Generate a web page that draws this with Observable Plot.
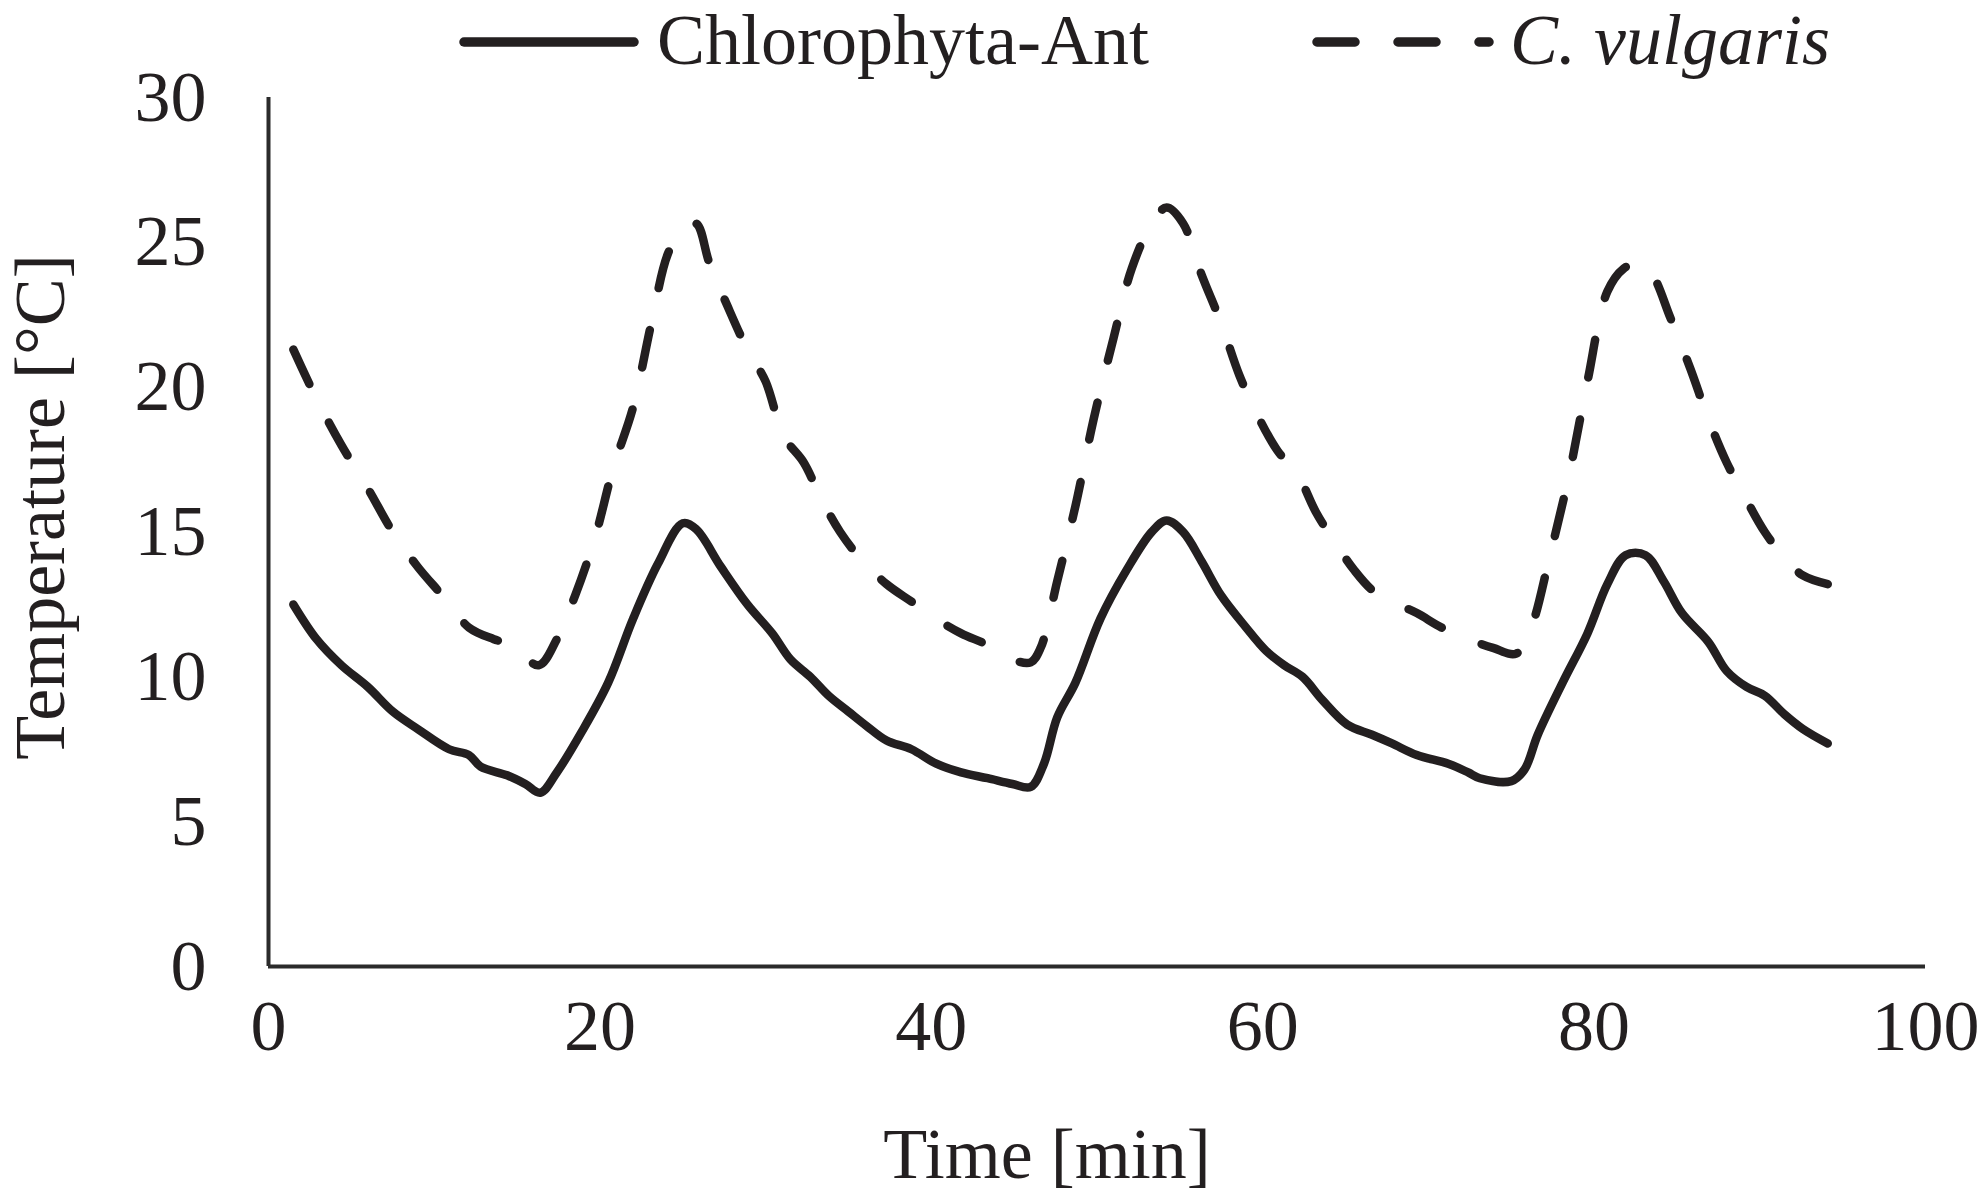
<!DOCTYPE html>
<html>
<head>
<meta charset="utf-8">
<script src="https://cdn.jsdelivr.net/npm/d3@7"></script>
<script src="https://cdn.jsdelivr.net/npm/@observablehq/plot@0.6"></script>
<style>
  html, body { margin: 0; padding: 0; background: #fff; overflow: hidden; }
  body { width: 1983px; height: 1198px; font-family: "Liberation Serif", "Times New Roman", serif; color: #231f20; }
  #legend { position: relative; width: 1983px; height: 72px; overflow: visible; z-index: 2; }
  #legend .lbl { position: absolute; font-size: 72px; line-height: 1; white-space: nowrap; }
  #legend svg.sample { position: absolute; overflow: visible; }
  #chart svg { background: transparent !important; }
</style>
</head>
<body>
<div id="legend"></div>
<div id="chart"></div>
<script>
// ---- data ----
const seriesNames = ["Chlorophyta-Ant", "C. vulgaris"];

const antTime = [1.5, 2.9, 4.4, 6.0, 7.5, 9.0, 10.9, 12.1, 12.8, 14.4, 15.5, 16.4, 17.4, 18.9, 20.5, 22.0, 23.5, 25.0, 25.8, 27.3, 28.9, 30.4, 31.5, 32.7, 33.8, 35.0, 36.1, 37.3, 38.8, 40.3, 41.8, 43.4, 44.9, 46.0, 46.8, 47.6, 48.7, 50.2, 51.8, 53.3, 54.2, 55.2, 56.3, 57.5, 59.0, 60.2, 61.3, 62.4, 63.6, 65.1, 66.6, 67.8, 69.3, 71.2, 72.4, 73.1, 75.0, 75.8, 76.6, 78.1, 79.6, 80.8, 81.9, 83.1, 84.2, 85.3, 86.9, 88.0, 89.2, 90.3, 91.5, 92.6, 94.1];
const antTemp = [12.5, 11.3, 10.4, 9.65, 8.8, 8.2, 7.5, 7.3, 6.9, 6.6, 6.3, 6.0, 6.7, 8.1, 9.8, 12.0, 13.9, 15.3, 15.1, 13.8, 12.5, 11.5, 10.6, 10.0, 9.35, 8.8, 8.3, 7.8, 7.5, 7.0, 6.7, 6.5, 6.3, 6.2, 7.0, 8.6, 9.8, 12.0, 13.7, 15.0, 15.4, 15.0, 14.0, 12.8, 11.7, 10.9, 10.4, 10.0, 9.2, 8.35, 8.0, 7.7, 7.3, 7.0, 6.7, 6.5, 6.4, 6.8, 8.0, 9.8, 11.5, 13.2, 14.2, 14.2, 13.3, 12.2, 11.2, 10.2, 9.65, 9.35, 8.7, 8.2, 7.7];

const vulTime = [1.5, 2.9, 4.4, 6.0, 7.5, 9.0, 10.5, 12.1, 13.6, 14.7, 16.3, 17.4, 18.5, 19.7, 20.8, 22.0, 23.1, 24.1, 25.0, 25.8, 26.6, 27.7, 28.9, 30.0, 31.1, 32.3, 33.4, 34.5, 35.7, 37.3, 38.8, 40.3, 41.8, 43.4, 44.9, 46.0, 46.6, 47.6, 48.7, 49.8, 51.0, 52.1, 53.3, 54.2, 55.2, 56.3, 57.5, 58.6, 59.8, 60.9, 62.1, 63.2, 64.4, 65.5, 66.6, 67.8, 69.3, 70.8, 72.4, 73.9, 75.3, 76.2, 77.3, 78.5, 79.6, 80.8, 81.8, 82.7, 83.5, 84.6, 85.8, 86.9, 88.0, 89.2, 90.3, 91.5, 92.6, 94.1];
const vulTemp = [21.3, 19.6, 18.0, 16.5, 15.0, 13.8, 12.8, 11.7, 11.3, 11.1, 10.4, 11.3, 12.8, 14.8, 17.2, 19.3, 22.2, 24.6, 25.5, 25.65, 24.3, 22.8, 21.3, 20.2, 18.3, 17.4, 16.1, 15.0, 14.1, 13.2, 12.6, 12.0, 11.5, 11.1, 10.6, 10.5, 11.0, 13.3, 15.9, 18.9, 21.7, 24.1, 25.65, 26.2, 25.65, 23.9, 22.2, 20.4, 18.9, 17.8, 17.0, 15.7, 14.6, 13.7, 13.0, 12.6, 12.2, 11.7, 11.3, 11.0, 10.8, 11.7, 14.1, 17.0, 20.2, 23.3, 24.1, 24.3, 23.9, 22.4, 20.65, 18.9, 17.4, 16.1, 15.0, 14.1, 13.5, 13.2];

const xTicks = [0, 20, 40, 60, 80, 100];
const yTicks = [0, 5, 10, 15, 20, 25, 30];
const xTitle = "Time [min]";
const yTitle = "Temperature [°C]";

// ---- build rows ----
const ant = antTime.map((t, i) => ({time: t, temp: antTemp[i], series: seriesNames[0]}));
const vul = vulTime.map((t, i) => ({time: t, temp: vulTemp[i], series: seriesNames[1]}));

const INK = "#231f20";
const FONT = '"Liberation Serif", "Times New Roman", serif';

// ---- legend (HTML above the SVG) ----
const legend = document.getElementById("legend");
legend.innerHTML = `
  <svg class="sample" style="left:459px; top:34px" width="180" height="16">
    <line x1="5" y1="8" x2="175" y2="8" stroke="${INK}" stroke-width="9.5" stroke-linecap="round"/>
  </svg>
  <span class="lbl" style="left:657px; top:4px">${seriesNames[0]}</span>
  <svg class="sample" style="left:1308px; top:34px" width="190" height="16">
    <line x1="9" y1="8" x2="181" y2="8" stroke="${INK}" stroke-width="9.5" stroke-linecap="round" stroke-dasharray="38,43"/>
  </svg>
  <span class="lbl" style="left:1510px; top:4px; font-style:italic">${seriesNames[1]}</span>
`;

// ---- chart ----
const W = 1983, H = 1126;
const chart = Plot.plot({
  width: W,
  height: H,
  marginLeft: 268,
  marginRight: 58,
  marginTop: 25,
  marginBottom: 232,
  style: {fontFamily: FONT, fontSize: "72px", color: INK, background: "transparent", overflow: "visible"},
  x: {domain: [0, 100], ticks: xTicks, tickFormat: d => String(d)},
  y: {domain: [0, 30], ticks: yTicks, tickFormat: d => String(d)},
  marks: [
    Plot.axisY({ticks: yTicks, tickSize: 0, tickPadding: 62, label: null, fontSize: 72, tickFormat: d => String(d)}),
    Plot.axisX({ticks: xTicks, tickSize: 0, tickPadding: 32, label: null, fontSize: 72, tickFormat: d => String(d)}),
    Plot.ruleX([0], {stroke: "#2b2b2b", strokeWidth: 4}),
    Plot.ruleY([0], {stroke: "#2b2b2b", strokeWidth: 4}),
    Plot.line(ant, {x: "time", y: "temp", stroke: INK, strokeWidth: 8.5, curve: "catmull-rom", strokeLinejoin: "round", strokeLinecap: "round"}),
    Plot.line(vul, {x: "time", y: "temp", stroke: INK, strokeWidth: 8.5, curve: "catmull-rom", strokeDasharray: "38,43", strokeLinecap: "round", strokeLinejoin: "round"}),
    Plot.text([xTitle], {frameAnchor: "bottom", dx: -50, dy: 188, fontSize: 72, fill: INK, lineAnchor: "middle", textAnchor: "middle"}),
    Plot.text([yTitle], {frameAnchor: "left", dx: -228, dy: -25, rotate: -90, fontSize: 72, fill: INK, lineAnchor: "middle", textAnchor: "middle"})
  ]
});
document.getElementById("chart").appendChild(chart);
</script>
</body>
</html>
